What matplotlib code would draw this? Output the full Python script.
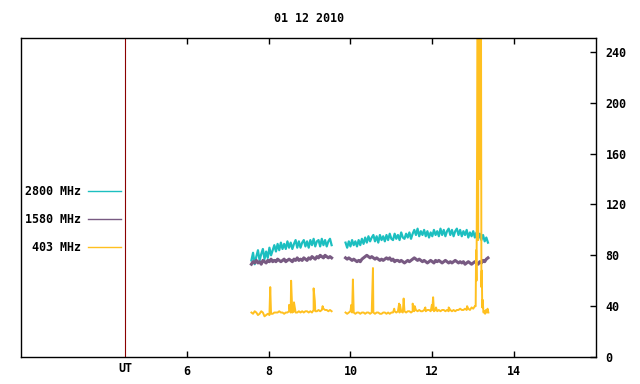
"""Radio flux at 2800 / 1580 / 403 MHz, 01 12 2010 (gnuplot-style remake)."""
import matplotlib
matplotlib.use("Agg")
import matplotlib.pyplot as plt
import numpy as np

TITLE = "01 12 2010"
LABELS = ["2800 MHz", "1580 MHz", "403 MHz"]
COLORS = ["#1cbfc0", "#785a82", "#ffc020"]
XTICKS = [6, 8, 10, 12, 14]
YTICKS = [0, 40, 80, 120, 160, 200, 240]
UT_MARK = 4.5

# two observing runs (UT hours): first / last sample time
RUN1 = (7.58, 9.54)
RUN2 = (9.88, 13.36)

# 2800 MHz
f2800_a = [76, 82, 73, 79, 84, 76, 81, 85, 77, 83, 78, 86, 80, 84, 88, 83, 89,
           84, 90, 85, 89, 85, 91, 86, 90, 85, 89, 92, 86, 91, 86, 90, 92, 87,
           91, 86, 92, 88, 93, 87, 91, 92, 87, 93, 88, 92, 87, 91, 93, 88]
f2800_b = [90, 86, 91, 87, 92, 88, 91, 87, 92, 88, 93, 89, 94, 90, 95, 91,
           94, 96, 91, 95, 90, 96, 92, 95, 91, 96, 92, 97, 93, 92, 97, 93,
           96, 92, 98, 94, 93, 97, 94, 98, 93, 97, 100, 96, 101, 95, 99, 96,
           100, 95, 99, 94, 98, 95, 100, 96, 99, 95, 101, 96, 100, 95, 99, 101,
           96, 100, 95, 99, 101, 96, 100, 95, 99, 96, 100, 94, 98, 95, 99, 94,
           98, 93, 97, 92, 96, 91, 94, 90]

# 1580 MHz
f1580_a = [73, 75, 74, 76, 74, 75, 73, 76, 75, 74, 76, 75, 77, 75, 76, 75, 77,
           76, 75, 76, 77, 75, 76, 77, 76, 75, 77, 76, 78, 76, 77, 76, 78, 77,
           76, 78, 77, 79, 78, 77, 79, 78, 80, 79, 78, 80, 79, 78, 79, 78]
f1580_b = [78, 77, 78, 77, 76, 77, 76, 75, 76, 75, 77, 78, 79, 80, 79, 78,
           79, 78, 77, 78, 77, 76, 77, 76, 77, 78, 77, 78, 76, 77, 75, 76,
           76, 75, 76, 75, 74, 75, 76, 75, 76, 77, 78, 77, 76, 77, 76, 75,
           76, 75, 74, 75, 76, 75, 74, 76, 75, 76, 75, 74, 75, 76, 75, 74,
           75, 74, 75, 76, 75, 74, 75, 74, 75, 73, 74, 75, 74, 73, 74, 75,
           74, 73, 75, 74, 76, 75, 77, 78]

# 403 MHz: quiet level, short spikes and the flare after 13 UT
f403_a = [35, 34, 36, 35, 33, 34, 36, 35, 32, 33, 34, 33, 34, 34, 35, 35, 35,
          36, 35, 35, 34, 35, 35, 36, 35, 35, 36, 35, 35, 36, 35, 36, 35, 36,
          36, 35, 36, 35, 37, 36, 36, 37, 36, 37, 38, 37, 37, 36, 37, 36]
spike_t_a = [8.04, 8.50, 8.55, 8.62, 9.10, 9.13, 9.32]
spike_v_a = [55, 41, 60, 43, 54, 44, 40]

f403_b = [35, 34, 35, 36, 35, 35, 34, 35, 35, 34, 35, 35, 34, 35, 35, 34,
          35, 35, 34, 35, 35, 34, 34, 35, 35, 34, 35, 34, 35, 35, 36, 35,
          36, 35, 36, 35, 36, 35, 36, 36, 35, 36, 36, 37, 36, 37, 36, 36,
          37, 36, 37, 37, 36, 37, 36, 37, 36, 37, 36, 37, 37, 36, 37, 36,
          37, 36, 37, 36, 37, 37, 38, 37, 37, 38, 37, 38, 37, 39, 38, 40]
f403_b_end = 13.04
spike_t_b = [10.02, 10.06, 10.55, 11.07, 11.19, 11.21, 11.30, 11.52, 11.57,
             11.83, 11.99, 12.02, 12.09, 12.40, 12.85]
spike_v_b = [41, 61, 70, 38, 42, 41, 46, 42, 40, 39, 41, 47, 39, 39, 40]

flare_t = [13.06, 13.07, 13.08, 13.09, 13.11, 13.12, 13.13, 13.15, 13.16,
           13.17, 13.19, 13.20, 13.21, 13.22, 13.23, 13.25, 13.27, 13.29,
           13.31, 13.33, 13.35, 13.37]
flare_v = [40, 84, 60, 130, 300, 92, 300, 300, 140, 300, 270, 55, 68, 39,
           45, 35, 36, 34, 37, 35, 38, 35]


def with_spikes(t, v, st, sv):
    tt = np.concatenate([t, st])
    vv = np.concatenate([v, sv])
    order = np.argsort(tt, kind="stable")
    return tt[order], vv[order]


def main() -> None:
    plt.rcParams["font.family"] = "DejaVu Sans Mono"
    plt.rcParams["font.weight"] = "bold"
    fs = 8.4

    fig = plt.figure(figsize=(6.4, 3.84), dpi=100)
    ax = fig.add_axes([21 / 640, 27 / 384, 575 / 640, 319 / 384])

    t1 = np.linspace(RUN1[0], RUN1[1], len(f2800_a))
    t2 = np.linspace(RUN2[0], RUN2[1], len(f2800_b))

    h1, = ax.plot(t1, f2800_a, color=COLORS[0], lw=1.6, label=LABELS[0])
    ax.plot(t2, f2800_b, color=COLORS[0], lw=1.6)
    h2, = ax.plot(t1, f1580_a, color=COLORS[1], lw=2.2, label=LABELS[1])
    ax.plot(t2, f1580_b, color=COLORS[1], lw=2.2)

    ya_t, ya_v = with_spikes(t1, np.array(f403_a, float), spike_t_a, spike_v_a)
    tb = np.linspace(RUN2[0], f403_b_end, len(f403_b))
    yb_t, yb_v = with_spikes(tb, np.array(f403_b, float), spike_t_b, spike_v_b)
    yb_t = np.concatenate([yb_t, flare_t])
    yb_v = np.concatenate([yb_v, flare_v])
    h3, = ax.plot(ya_t, ya_v, color=COLORS[2], lw=1.4, label=LABELS[2])
    ax.plot(yb_t, yb_v, color=COLORS[2], lw=1.4)

    ax.axvline(UT_MARK, color="#8b0000", lw=0.8)

    ax.set_xlim(1.95, 16.0)
    ax.set_ylim(0, 251)

    ax.set_xticks(XTICKS)
    ax.set_xticklabels([str(x) for x in XTICKS], fontsize=fs)
    ax.set_xticks([UT_MARK], minor=True)
    ax.set_xticklabels(["UT"], minor=True, fontsize=fs)
    ax.tick_params(axis="x", which="major", direction="in", length=4,
                   width=1, top=True, pad=5.8)
    ax.tick_params(axis="x", which="minor", length=0, pad=3.8)

    ax.yaxis.tick_right()
    ax.set_yticks(YTICKS)
    ax.set_yticklabels([str(y) for y in YTICKS], fontsize=fs)
    ax.tick_params(axis="y", direction="in", length=4, width=1,
                   right=True, left=False, pad=7)

    for sp in ax.spines.values():
        sp.set_linewidth(1.0)
        sp.set_color("black")

    leg = ax.legend(handles=[h1, h2, h3], loc="center right",
                    bbox_to_anchor=(121 / 640, 1 - 219.3 / 384),
                    bbox_transform=fig.transFigure, frameon=False,
                    markerfirst=False, fontsize=fs, handlelength=2.85,
                    handletextpad=0.6, labelspacing=1.3, borderpad=0,
                    borderaxespad=0)
    for ln in leg.get_lines():
        ln.set_linewidth(1.0)

    fig.text(309 / 640, 1 - 19 / 384, TITLE, ha="center", va="center",
             fontsize=fs)

    fig.savefig("out.png", dpi=100)
    plt.close(fig)


if __name__ == "__main__":
    main()
